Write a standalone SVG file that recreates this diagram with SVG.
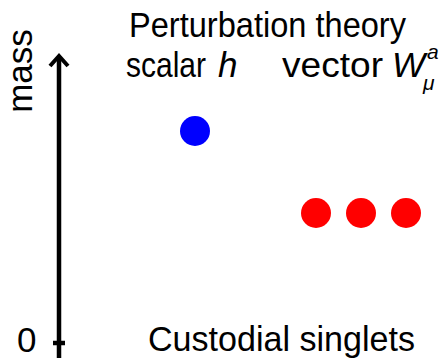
<svg xmlns="http://www.w3.org/2000/svg" width="445" height="358" viewBox="0 0 445 358">
<style>
text{font-family:"Liberation Sans","DejaVu Sans",sans-serif;font-size:35px;fill:#000}
.it{font-style:italic}
.sm{font-size:21px}
</style>
<rect width="445" height="358" fill="#fff"/>
<g id="connectors">
<line x1="59" y1="358" x2="59" y2="57" stroke="#000" stroke-width="4.5"/>
<path d="M50,66 L59,56 L68,66" fill="none" stroke="#000" stroke-width="4"/>
<line x1="53" y1="343" x2="65" y2="343" stroke="#000" stroke-width="4.5"/>
</g>
<g id="axis-labels">
<text x="0" y="0" transform="translate(32,71) rotate(-90)" text-anchor="middle">mass</text>
<text x="17" y="352">0</text>
</g>
<g id="titles">
<text x="129" y="37" textLength="277" lengthAdjust="spacingAndGlyphs">Perturbation theory</text>
<text x="126" y="77" textLength="80" lengthAdjust="spacingAndGlyphs">scalar</text>
<text x="218" y="77" class="it">h</text>
<text x="282" y="77" textLength="101" lengthAdjust="spacingAndGlyphs">vector</text>
<text x="392" y="77" class="it">W</text>
<text x="427" y="59" class="sm it">a</text>
<text x="423" y="90" class="sm it">μ</text>
<text x="148" y="351" textLength="267" lengthAdjust="spacingAndGlyphs">Custodial singlets</text>
</g>
<g id="node-h"><circle cx="195" cy="131" r="15" fill="#0000ff"/></g>
<g id="node-W1"><circle cx="316" cy="213" r="15" fill="#ff0000"/></g>
<g id="node-W2"><circle cx="361" cy="213" r="15" fill="#ff0000"/></g>
<g id="node-W3"><circle cx="406" cy="213" r="15" fill="#ff0000"/></g>
</svg>
